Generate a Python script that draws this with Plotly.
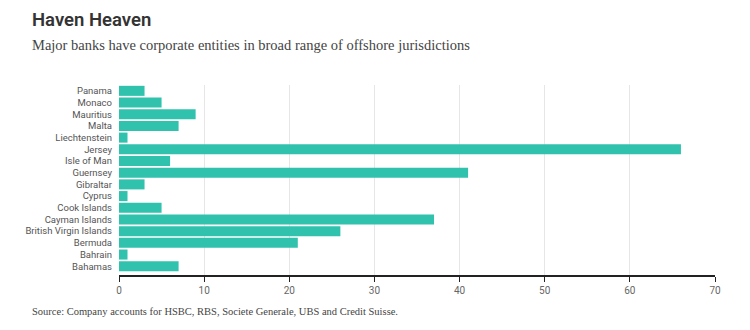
import plotly.graph_objects as go

# Categories listed bottom-to-top (Plotly draws first category at bottom)
categories = ["Bahamas", "Bahrain", "Bermuda", "British Virgin Islands", "Cayman Islands",
              "Cook Islands", "Cyprus", "Gibraltar", "Guernsey", "Isle of Man", "Jersey",
              "Liechtenstein", "Malta", "Mauritius", "Monaco", "Panama"]
values = [7, 1, 21, 26, 37, 5, 1, 3, 41, 6, 66, 1, 7, 9, 5, 3]
x_ticks = [0, 10, 20, 30, 40, 50, 60, 70]

title = "Haven Heaven"
subtitle = "Major banks have corporate entities in broad range of offshore jurisdictions"
source = "Source: Company accounts for HSBC, RBS, Societe Generale, UBS and Credit Suisse."

fig = go.Figure(go.Bar(
    x=values, y=categories, orientation="h",
    marker=dict(color="#31c2ae", line=dict(width=0)),
    hoverinfo="x+y",
))

fig.update_layout(
    width=750, height=330,
    margin=dict(l=119, r=35, t=85, b=55),
    paper_bgcolor="white", plot_bgcolor="white",
    bargap=0.14,
    showlegend=False,
    font=dict(family="Roboto, sans-serif", color="#555", size=10),
    xaxis=dict(
        range=[0, 70], tickvals=x_ticks, ticktext=[str(t) for t in x_ticks],
        showgrid=True, gridcolor="#e6e6e6", gridwidth=1,
        zeroline=False,
        showline=True, linecolor="#222", linewidth=1.5,
        ticks="outside", ticklen=5, tickcolor="#222", tickwidth=1,
        tickfont=dict(size=10, color="#666"),
        fixedrange=True,
    ),
    yaxis=dict(
        type="category", range=[-0.75, 15.5],
        tickmode="array", tickvals=categories, ticktext=categories,
        showgrid=False, zeroline=False, showline=False,
        ticks="", ticklabelstandoff=6,
        tickfont=dict(size=9.5, color="#555"),
        fixedrange=True,
    ),
    annotations=[
        dict(text=title, x=30, y=20, xref="paper", yref="paper",
             showarrow=False, xanchor="left", yanchor="middle",
             font=dict(family="Roboto, sans-serif", size=18.5, color="#333", weight=600)),
        dict(text=subtitle, x=30, y=45, xref="paper", yref="paper",
             showarrow=False, xanchor="left", yanchor="middle",
             font=dict(family="Liberation Serif, serif", size=14.5, color="#444")),
        dict(text=source, x=30, y=311, xref="paper", yref="paper",
             showarrow=False, xanchor="left", yanchor="middle",
             font=dict(family="Liberation Serif, serif", size=10.5, color="#444")),
    ],
)

# Convert annotation pixel positions to paper coordinates
pw = 750 - 119 - 35
ph = 330 - 85 - 55
for a in fig.layout.annotations:
    px, py = a.x, a.y
    a.x = (px - 119) / pw
    a.y = (330 - 55 - py) / ph

fig.write_html("out.html")
